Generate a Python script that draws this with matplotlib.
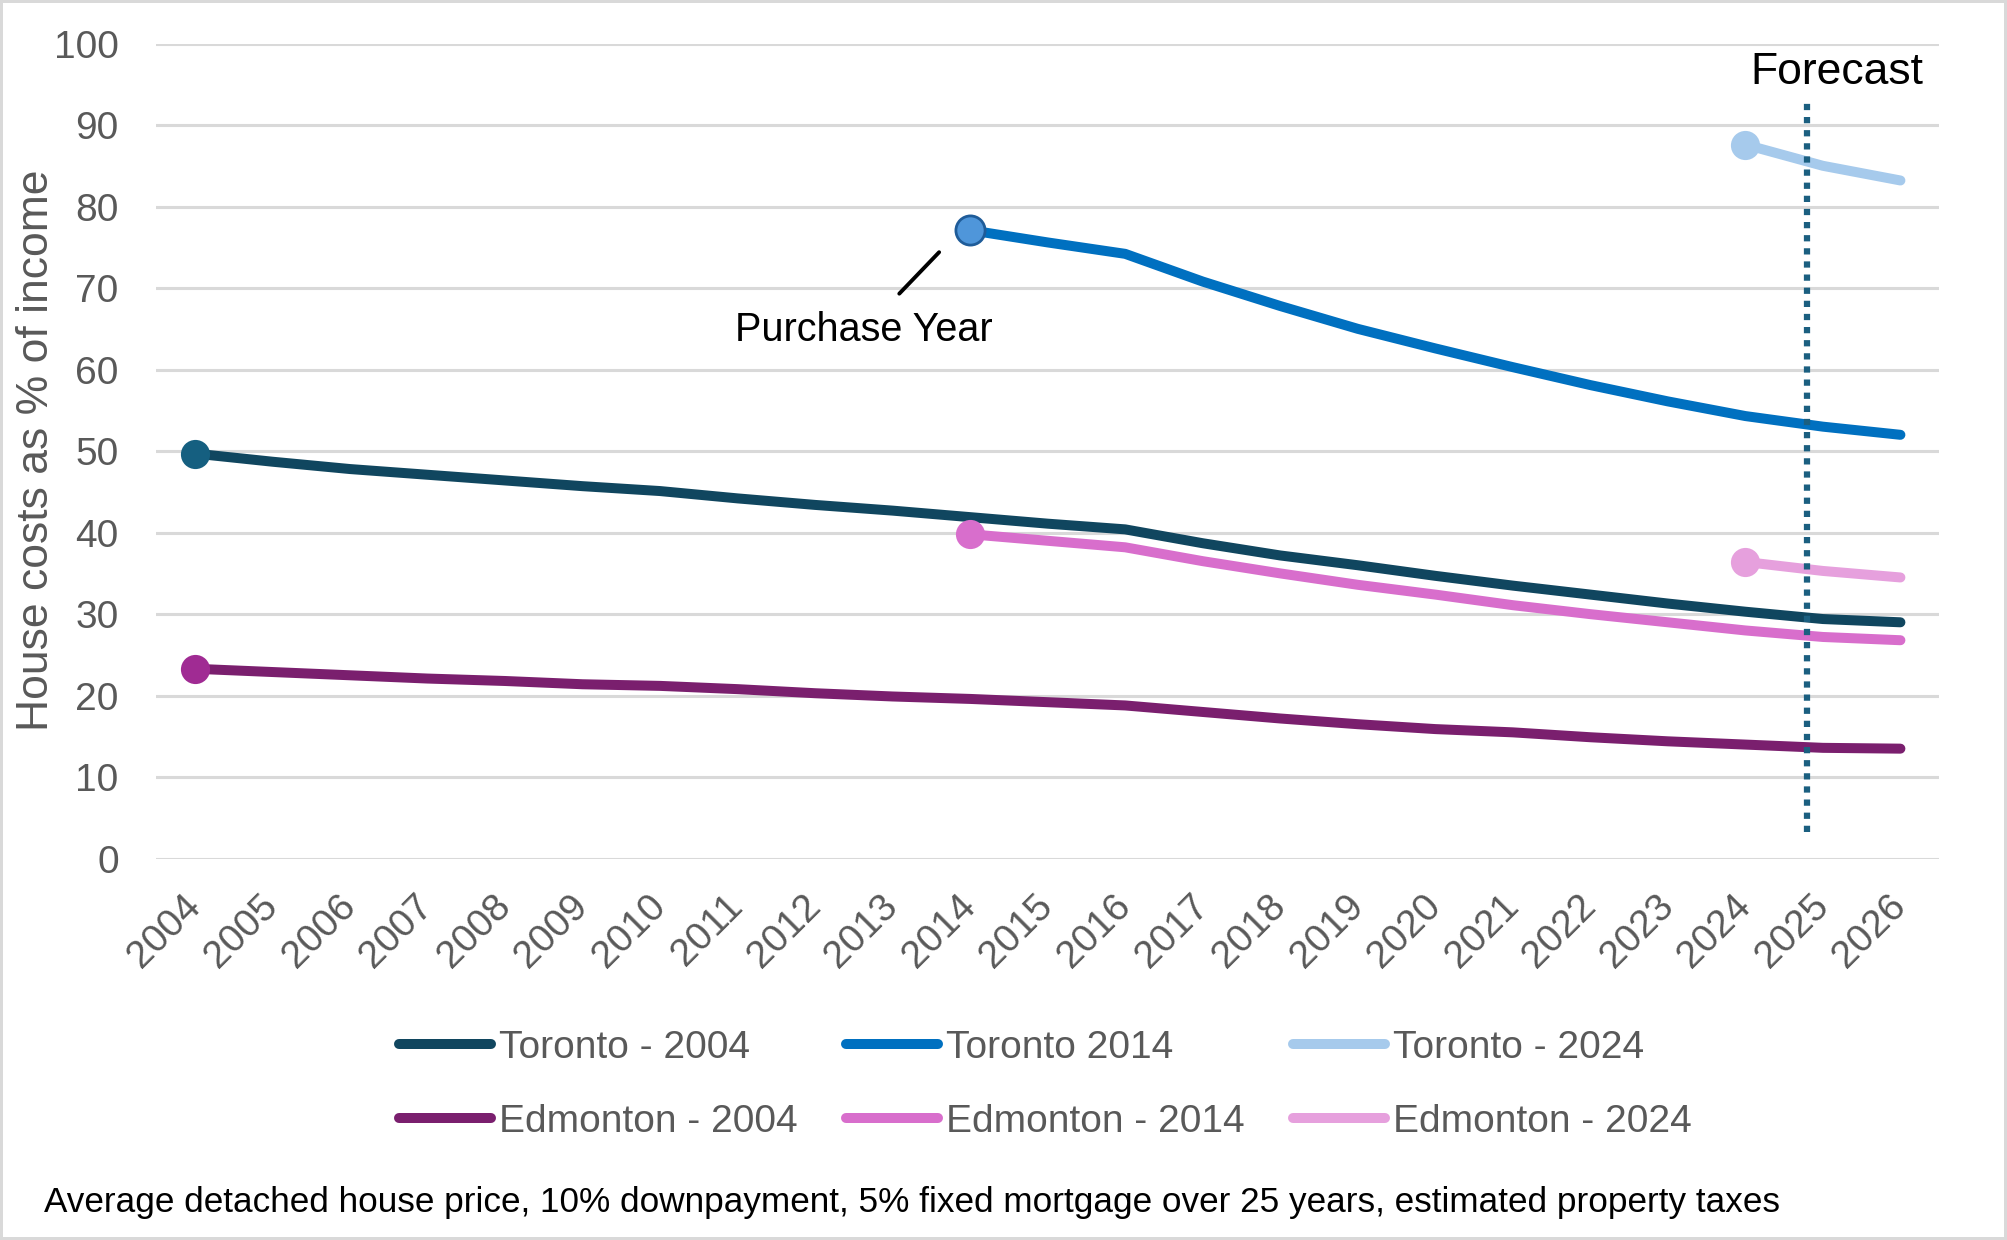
import matplotlib
matplotlib.use("Agg")
import matplotlib.pyplot as plt
import numpy as np

# ---- data ------------------------------------------------------------------
YEARS = list(range(2004, 2027))

toronto_2004 = [49.7, 48.7, 47.8, 47.1, 46.4, 45.7, 45.1, 44.2, 43.4, 42.7, 41.9,
                41.1, 40.4, 38.7, 37.2, 36.0, 34.7, 33.5, 32.4, 31.3, 30.3, 29.4, 29.0]
edmonton_2004 = [23.3, 22.9, 22.5, 22.1, 21.8, 21.4, 21.2, 20.8, 20.3, 19.9, 19.6,
                 19.2, 18.8, 18.0, 17.2, 16.5, 15.9, 15.5, 14.9, 14.4, 14.0, 13.6, 13.5]
toronto_2014 = [77.1, 75.6, 74.2, 70.8, 67.8, 65.0, 62.6, 60.3, 58.1, 56.1, 54.3, 53.0, 52.0]
edmonton_2014 = [39.8, 39.0, 38.2, 36.5, 35.0, 33.6, 32.4, 31.1, 30.0, 29.0, 28.0, 27.2, 26.8]
toronto_2024 = [87.6, 85.0, 83.2]
edmonton_2024 = [36.4, 35.3, 34.5]

LABELS = ["Toronto - 2004", "Edmonton - 2004", "Toronto 2014",
          "Edmonton - 2014", "Toronto - 2024", "Edmonton - 2024"]
FORECAST_X = 2024.8

# ---- theme -----------------------------------------------------------------
FONT = ["Liberation Sans", "DejaVu Sans"]
GREY, GRID = "#595959", "#D9D9D9"
plt.rcParams.update({"font.family": FONT, "font.size": 27})

fig = plt.figure(figsize=(20.07, 12.4), dpi=100)
fig.patch.set_edgecolor(GRID)
fig.patch.set_linewidth(3)
ax = fig.add_axes([0.0778, 0.3075, 0.8884, 0.6574])

series = [
    (toronto_2004, 2004, "#10465F", "#155F80", None),
    (edmonton_2004, 2004, "#7A1F6E", "#A02B93", None),
    (toronto_2014, 2014, "#0070C0", "#4F96DA", "#1F5C99"),
    (edmonton_2014, 2014, "#D86ECC", "#D86ECC", None),
    (toronto_2024, 2024, "#A6CAEC", "#A6CAEC", None),
    (edmonton_2024, 2024, "#E6A0DD", "#E6A0DD", None),
]
for (vals, start, col, mcol, medge), lab in zip(series, LABELS):
    xs = YEARS[YEARS.index(start):]
    ax.plot(xs, vals, color=col, lw=7.2, solid_capstyle="round",
            solid_joinstyle="round", label=lab, zorder=3)
    ax.plot(xs[0], vals[0], "o", ms=21, color=mcol,
            mec=medge if medge else mcol, mew=2 if medge else 0, zorder=4)

ax.plot([FORECAST_X, FORECAST_X], [3.3, 92.8], color="#1B5F80", lw=4.5,
        ls=(0, (1, 1.1)), dash_capstyle="butt", zorder=5)
ax.text(FORECAST_X + 0.38, 96.5, "Forecast", ha="center", va="center",
        fontsize=32, color="black")

ax.annotate("Purchase Year", xy=(2013.6, 74.4), xytext=(2012.63, 64.8),
            ha="center", va="center", fontsize=28.5, color="black",
            arrowprops=dict(arrowstyle="-", color="black", lw=2.8,
                            shrinkA=15, shrinkB=0))

ax.set_xlim(2003.5, 2026.5)
ax.set_ylim(0, 100)
ax.set_yticks(range(0, 101, 10))
ax.set_xticks(YEARS)
ax.set_xticklabels([str(y) for y in YEARS], rotation=45, ha="right",
                   va="center", rotation_mode="anchor")
ax.tick_params(axis="both", length=0, colors=GREY, labelsize=28)
ax.tick_params(axis="x", pad=30)
ax.tick_params(axis="y", pad=27)
ax.grid(axis="y", color=GRID, lw=2.2)
ax.set_axisbelow(True)
for s in ax.spines.values():
    s.set_visible(False)
fig.text(0.018, 0.637, "House costs as % of income", color=GREY, fontsize=32,
         rotation=90, ha="center", va="center")

fig.legend(loc="center", bbox_to_anchor=(0.521, 0.125), ncol=3, frameon=False,
           handlelength=2.35, handletextpad=0.22, columnspacing=1.25,
           labelspacing=0.98, fontsize=28, labelcolor=GREY)

fig.text(0.022, 0.030, "Average detached house price, 10% downpayment, 5% fixed "
         "mortgage over 25 years, estimated property taxes", fontsize=25.3,
         color="black", ha="left", va="center")

fig.savefig("out.png", dpi=100)
